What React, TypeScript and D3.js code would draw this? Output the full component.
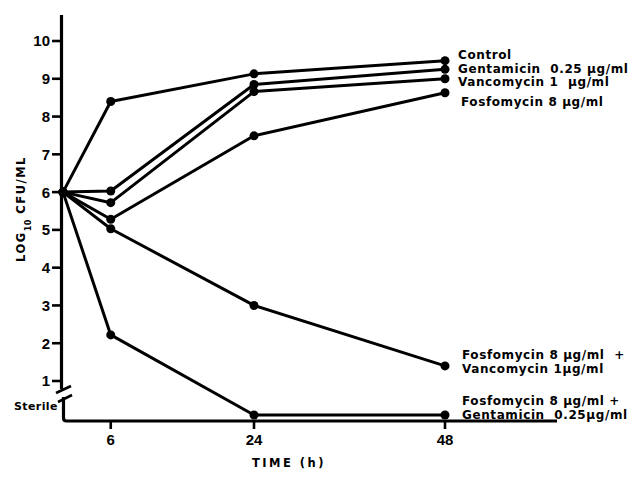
import React from "react";
import * as d3 from "d3";

// sampling times (h)
const times = [0, 6, 24, 48];
// log10 CFU/ml; 0.1 stands for "Sterile"
const STERILE = 0.1;
const control = [6, 8.4, 9.13, 9.48];
const gentamicin = [6, 6.03, 8.85, 9.25];
const vancomycin = [6, 5.72, 8.66, 9.0];
const fosfomycin = [6, 5.28, 7.49, 8.63];
const fosVanco = [6, 5.03, 3.0, 1.4];
const fosGenta = [6, 2.22, STERILE, STERILE];

const yTicks = [1, 2, 3, 4, 5, 6, 7, 8, 9, 10];
const xTicks = [6, 24, 48];

const seriesList = [control, gentamicin, vancomycin, fosfomycin, fosVanco, fosGenta];

// labels at the right end of the lines
const labels = [
  { lines: ["Control"], y: 59, x: 458 },
  { lines: ["Gentamicin  0.25 µg/ml"], y: 73, x: 458 },
  { lines: ["Vancomycin 1  µg/ml"], y: 86, x: 458 },
  { lines: ["Fosfomycin 8 µg/ml"], y: 106, x: 461 },
  { lines: ["Fosfomycin 8 µg/ml  +", "Vancomycin 1µg/ml"], y: 359, x: 462 },
  { lines: ["Fosfomycin 8 µg/ml +", "Gentamicin  0.25µg/ml"], y: 405, x: 462 },
];

const App = () => {
  const x = d3.scaleLinear().domain([0, 48]).range([63, 445]);
  const y = d3.scaleLinear().domain([1, 10]).range([381, 41]);

  const line = d3
    .line<number>()
    .x((_, i) => x(times[i]))
    .y((d) => y(d));

  const axisX = 63.5;
  const baseY = 421;
  const font = "'DejaVu Sans', sans-serif";
  const numFont = "'Liberation Sans', Arial, sans-serif";

  return (
    <svg width={639} height={477} style={{ position: "absolute", left: 0, top: 0, background: "#fff" }}>
      <rect width={639} height={477} fill="#fff" />
      {/* y axis (upper part) */}
      <line x1={61.5} x2={61.5} y1={15} y2={389} stroke="#000" strokeWidth={3.2} />
      {/* break marks */}
      <line x1={56} y1={393} x2={71} y2={386} stroke="#000" strokeWidth={2.6} />
      <line x1={58} y1={402} x2={72} y2={395} stroke="#000" strokeWidth={2.6} />
      {/* lower part + x axis */}
      <path
        d={`M${axisX},397 L${axisX},${baseY - 3} Q${axisX},${baseY} ${axisX + 3},${baseY} L557,${baseY}`}
        fill="none"
        stroke="#000"
        strokeWidth={3.2}
      />
      {yTicks.map((t) => (
        <g key={t}>
          <line x1={52} x2={61} y1={y(t)} y2={y(t)} stroke="#000" strokeWidth={2.6} />
          <text
            x={50}
            y={y(t)}
            dy="0.36em"
            textAnchor="end"
            fontFamily={numFont}
            fontWeight="bold"
            fontSize={15}
          >
            {t}
          </text>
        </g>
      ))}
      <text x={14} y={410} fontFamily={font} fontWeight="bold" fontSize={11} letterSpacing={0.4}>
        Sterile
      </text>
      {xTicks.map((t) => (
        <g key={t}>
          <line x1={x(t)} x2={x(t)} y1={baseY} y2={baseY + 8} stroke="#000" strokeWidth={2.6} />
          <text
            x={x(t)}
            y={445}
            textAnchor="middle"
            fontFamily={numFont}
            fontWeight="bold"
            fontSize={15}
          >
            {t}
          </text>
        </g>
      ))}
      <text
        x={289}
        y={467}
        textAnchor="middle"
        fontFamily={font}
        fontWeight="bold"
        fontSize={11.5}
        letterSpacing={2.5}
      >
        TIME (h)
      </text>
      <text
        transform="translate(25,209) rotate(-90)"
        textAnchor="middle"
        fontFamily={font}
        fontWeight="bold"
        fontSize={11.5}
        letterSpacing={1.5}
      >
        LOG
        <tspan fontSize={8} dy={6} letterSpacing={0.5}>10</tspan>
        <tspan dy={-6}>{"  CFU/ML"}</tspan>
      </text>

      {seriesList.map((s, k) => (
        <g key={k}>
          <path d={line(s) ?? ""} fill="none" stroke="#000" strokeWidth={3} strokeLinejoin="round" />
          {s.map((v, i) => (
            <circle key={i} cx={x(times[i])} cy={y(v)} r={4.5} fill="#000" />
          ))}
        </g>
      ))}

      {labels.map((l, k) => (
        <text
          key={k}
          x={l.x}
          y={l.y}
          fontFamily={font}
          fontWeight="bold"
          fontSize={12}
          letterSpacing={0.6}
        >
          {l.lines.map((s, j) => (
            <tspan key={j} x={l.x} dy={j === 0 ? 0 : 14} style={{ whiteSpace: "pre" }}>
              {s}
            </tspan>
          ))}
        </text>
      ))}
    </svg>
  );
};

export default App;
